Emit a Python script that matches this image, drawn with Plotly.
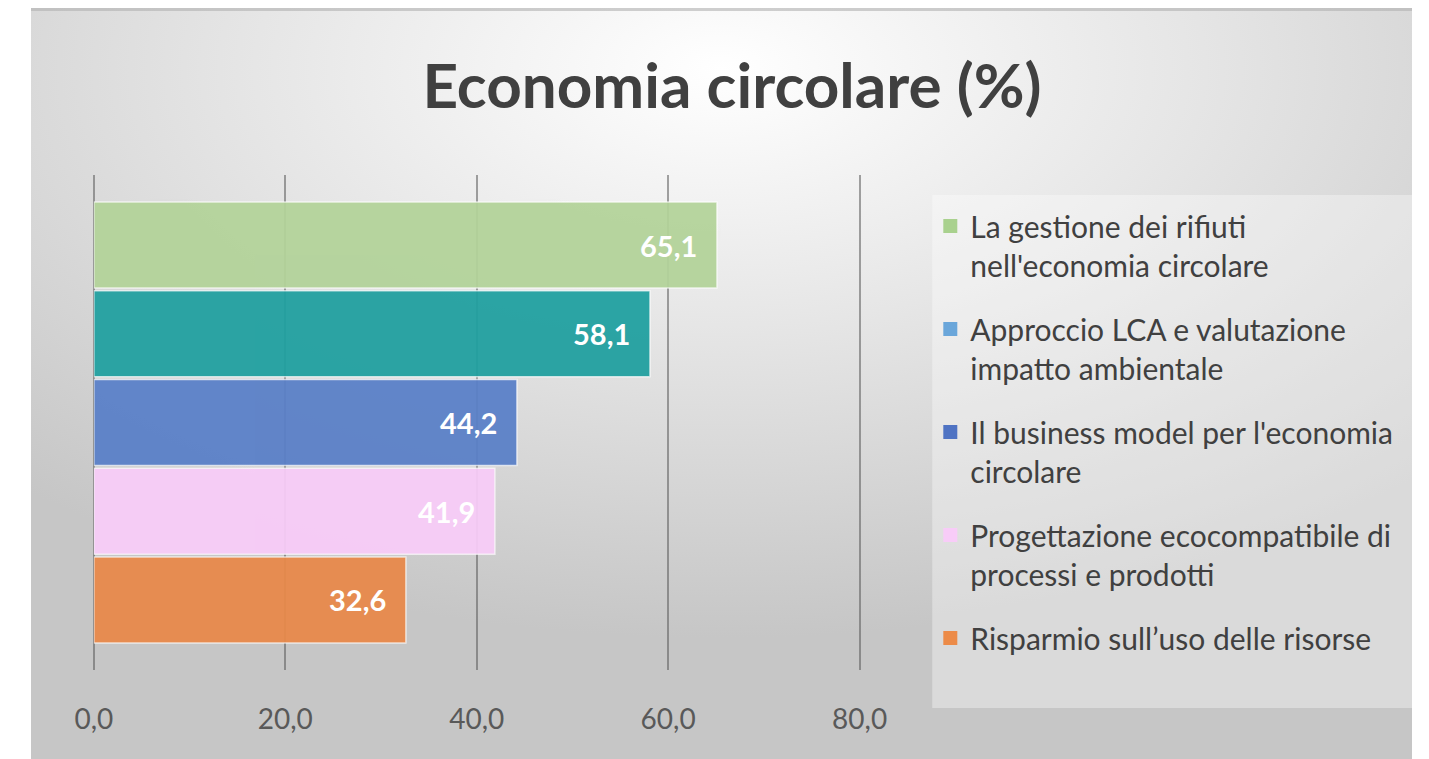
"""
Economia circolare (%) - grafico a barre orizzontali stile Excel
"""
import base64
import plotly.graph_objects as go

W, H = 1429, 759
OFF = 8  # margine del body della pagina html

# Dati
CATEGORIE = [
    "La gestione dei rifiuti<br>nell'economia circolare",
    "Approccio LCA e valutazione<br>impatto ambientale",
    "Il business model per l'economia<br>circolare",
    "Progettazione ecocompatibile di<br>processi e prodotti",
    "Risparmio sull\u2019uso delle risorse",
]
VALORI = [65.1, 58.1, 44.2, 41.9, 32.6]
COLORI_BARRE = ["#b3d39a", "#20a0a0", "#5a80c8", "#f8ccf8", "#e8894a"]
COLORI_LEGENDA = ["#a9d18e", "#6aa6da", "#4f73c3", "#f8ccf8", "#ec8b48"]
TICKS_X = [0, 20, 40, 60, 80]

FONT = "Lato, 'Open Sans', sans-serif"


def px_x(p):
    # posizione in pixel (come nel riferimento) -> coordinate paper
    return (p - OFF) / W


def px_y(p):
    return 1 - (p - OFF) / H


# Sfondo con gradiente radiale (come in Excel)
svg = """<svg xmlns='http://www.w3.org/2000/svg' width='1425' height='759' viewBox='0 0 1425 759' preserveAspectRatio='none'>
<defs><radialGradient id='g' cx='0.5' cy='0.08' r='0.75'>
<stop offset='0' stop-color='#ffffff'/>
<stop offset='0.45' stop-color='#e6e6e6'/>
<stop offset='1' stop-color='#c6c6c6'/>
</radialGradient></defs>
<rect width='1425' height='759' fill='url(#g)'/>
<rect width='1425' height='3' fill='#b0b0b0' opacity='0.6'/></svg>"""
sfondo = "data:image/svg+xml;base64," + base64.b64encode(svg.encode()).decode()

fig = go.Figure()

# Barre
fig.add_trace(go.Bar(
    x=VALORI,
    y=CATEGORIE,
    orientation="h",
    width=0.97,
    marker=dict(color=COLORI_BARRE, opacity=0.94,
                line=dict(color="rgba(255,255,255,0.7)", width=1.5)),
    showlegend=False,
    hoverinfo="x+y",
))

# Etichette dei valori
for cat, val in zip(CATEGORIE, VALORI):
    fig.add_annotation(
        x=val, y=cat, xref="x", yref="y",
        text=f"<b>{val:.1f}</b>".replace(".", ","),
        showarrow=False, xanchor="right", xshift=-18,
        font=dict(family=FONT, size=29, color="white"),
    )

# Voci di legenda
for i, (cat, col) in enumerate(zip(CATEGORIE, COLORI_LEGENDA)):
    fig.add_trace(go.Scatter(
        x=[None], y=[None], mode="markers", name=cat,
        legendgroup=f"g{i}",
        marker=dict(symbol="square", size=14, color=col),
    ))

fig.update_layout(
    width=W, height=H,
    margin=dict(l=0, r=0, t=0, b=0),
    paper_bgcolor="white",
    plot_bgcolor="rgba(0,0,0,0)",
    separators=",.",
    barmode="overlay",
    font=dict(family=FONT, color="#595959"),
    title=dict(
        text="<b>Economia circolare (%)</b>",
        x=px_x(732), y=px_y(86), xanchor="center", yanchor="middle",
        font=dict(family=FONT, size=62, color="#404040"),
    ),
    xaxis=dict(
        domain=[px_x(77), px_x(870)],
        range=[0, 80.3],
        tickvals=TICKS_X,
        tickformat=".1f",
        showgrid=True, gridcolor="rgba(90,90,90,0.55)", gridwidth=1.5,
        zeroline=True, zerolinecolor="rgba(90,90,90,0.55)", zerolinewidth=1.5,
        showline=False, ticks="",
        ticklabelstandoff=30,
        tickfont=dict(family=FONT, size=28, color="#595959"),
        fixedrange=True,
    ),
    yaxis=dict(
        domain=[px_y(670), px_y(175)],
        categoryorder="array", categoryarray=CATEGORIE,
        range=[4.79, -0.79],
        showticklabels=False, showgrid=False, zeroline=False, showline=False,
        fixedrange=True,
    ),
    legend=dict(
        x=px_x(940), y=px_y(200), xanchor="left", yanchor="top",
        bgcolor="rgba(0,0,0,0)",
        font=dict(family=FONT, size=30, color="#404040"),
        valign="top", tracegroupgap=22, itemwidth=30,
    ),
    images=[dict(
        source=sfondo, xref="paper", yref="paper",
        x=px_x(12), y=1, sizex=1 - px_x(12), sizey=1,
        xanchor="left", yanchor="top", sizing="stretch", layer="below",
    )],
    shapes=[dict(
        type="rect", xref="paper", yref="paper", layer="below",
        x0=px_x(942), x1=1, y0=px_y(708), y1=px_y(195),
        fillcolor="rgba(255,255,255,0.35)", line=dict(width=0),
    )],
)

fig.write_html("out.html")
